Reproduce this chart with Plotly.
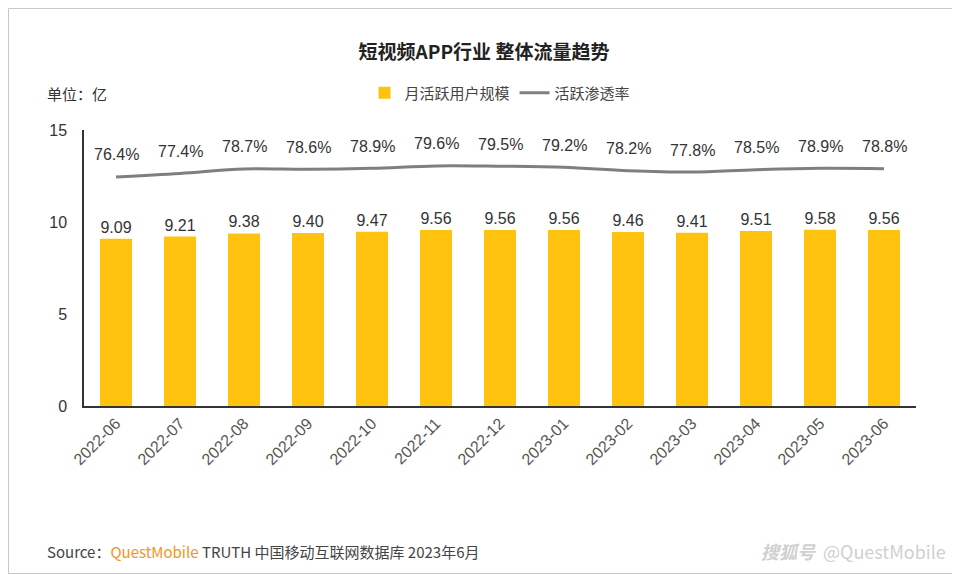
import plotly.graph_objects as go

months = ["2022-06", "2022-07", "2022-08", "2022-09", "2022-10", "2022-11", "2022-12",
          "2023-01", "2023-02", "2023-03", "2023-04", "2023-05", "2023-06"]
mau = [9.09, 9.21, 9.38, 9.40, 9.47, 9.56, 9.56, 9.56, 9.46, 9.41, 9.51, 9.58, 9.56]
penetration = [76.4, 77.4, 78.7, 78.6, 78.9, 79.6, 79.5, 79.2, 78.2, 77.8, 78.5, 78.9, 78.8]
y_ticks = [0, 5, 10, 15]

FONT = "'Liberation Sans', Arial, 'Noto Sans CJK SC', sans-serif"
CJK = "'Noto Sans CJK SC', 'Microsoft YaHei', sans-serif"

W, H = 952, 566
L, R, T, B = 76, 908, 122, 398
PW, PH = R - L, B - T

fig = go.Figure()
fig.add_trace(go.Bar(
    x=months, y=mau, name="月活跃用户规模",
    marker=dict(color="#FFC30F", line=dict(width=0)),
    text=[f"{v:.2f}" for v in mau], textposition="outside",
    textfont=dict(size=16, color="#333333", family=FONT),
    cliponaxis=False,
))
fig.add_trace(go.Scatter(
    x=months, y=penetration, name="活跃渗透率", yaxis="y2",
    mode="lines", line=dict(color="#7F7F7F", width=3, shape="spline"),
))
for m, p in zip(months, penetration):
    fig.add_annotation(x=m, y=p, yref="y2", text=f"{p:.1f}%", showarrow=False,
                       yshift=22, font=dict(size=16, color="#333333", family=FONT))

fig.update_layout(
    width=W, height=H,
    margin=dict(l=L, r=W - R, t=T, b=H - B),
    paper_bgcolor="white", plot_bgcolor="rgba(0,0,0,0)",
    bargap=0.5,
    title=dict(text="<b>短视频APP行业 整体流量趋势</b>", x=0.5, xanchor="center",
               y=1 - 44 / H, yanchor="middle",
               font=dict(size=19, color="#222222", family=CJK)),
    legend=dict(orientation="h", x=0.5, xanchor="center", y=(B - 85) / PH, yanchor="middle",
                font=dict(size=15, color="#444444", family=CJK),
                bgcolor="rgba(0,0,0,0)"),
    xaxis=dict(type="category", showline=True, linecolor="#333333", linewidth=1.5,
               tickangle=-45, tickfont=dict(size=16, color="#555555", family=FONT),
               ticks="", showgrid=False),
    yaxis=dict(range=[0, 15], tickvals=y_ticks, showline=True, linecolor="#333333",
               linewidth=1.5, showgrid=False, zeroline=False, ticks="",
               ticklabelstandoff=12,
               tickfont=dict(size=16, color="#333333", family=FONT)),
    yaxis2=dict(range=[10, 90], overlaying="y", visible=False),
    showlegend=True,
)

fig.add_annotation(xref="paper", yref="paper", x=(37 - L) / PW, y=(B - 85) / PH,
                   xanchor="left", yanchor="middle", text="单位：亿", showarrow=False,
                   font=dict(size=15, color="#333333", family=CJK))
fig.add_annotation(xref="paper", yref="paper", x=(37 - L) / PW, y=-(543 - B) / PH,
                   xanchor="left", yanchor="middle", showarrow=False,
                   text="Source：<span style='color:#F7941D'>QuestMobile</span> TRUTH 中国移动互联网数据库 2023年6月",
                   font=dict(size=15, color="#444444", family=CJK))
fig.add_annotation(xref="paper", yref="paper", x=(940 - L) / PW, y=-(543 - B) / PH,
                   xanchor="right", yanchor="middle", showarrow=False,
                   text="<i><b>搜狐号</b></i>  @QuestMobile",
                   font=dict(size=18, color="#D0D0D0", family=CJK))
fig.add_shape(type="rect", xref="paper", yref="paper",
              x0=(0.5 - L) / PW, x1=(W - 0.5 - L) / PW,
              y0=-(H - 0.5 - B) / PH, y1=(B - 0.5) / PH,
              line=dict(color="#C8C8C8", width=1), fillcolor="rgba(0,0,0,0)", layer="below")

fig.write_html("out.html")
